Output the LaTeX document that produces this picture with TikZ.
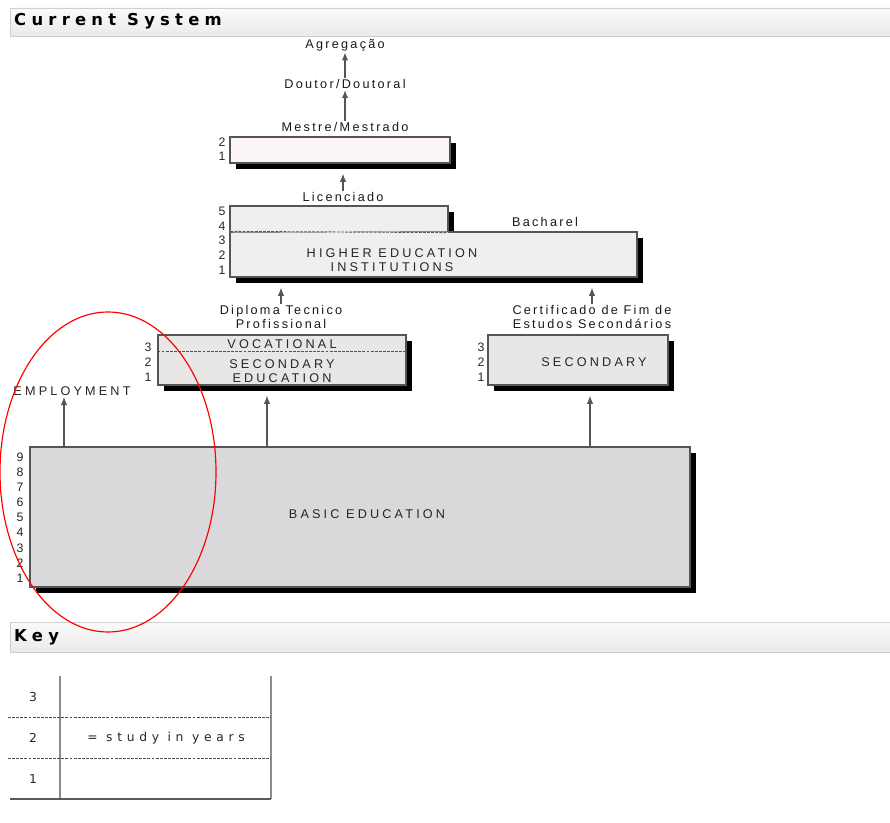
\documentclass[tikz,border=0pt]{standalone}
\usepackage{fontspec}
\setmainfont{Liberation Sans}
\newfontfamily\lblfont[LetterSpace=18]{Liberation Sans}
\newfontfamily\capsfont[LetterSpace=25]{Liberation Sans}
\newfontfamily\headfont[LetterSpace=32]{DejaVu Sans}
\newfontfamily\keyfont[LetterSpace=38]{DejaVu Sans}
\usetikzlibrary{shapes,arrows,positioning,backgrounds,fit,shadows,arrows.meta}

\definecolor{edgegray}{HTML}{555555}
\definecolor{basicfill}{HTML}{D9D9DB}
\definecolor{secfill}{HTML}{E9E7E6}
\definecolor{heifill}{HTML}{F0EEEE}
\definecolor{mastfill}{HTML}{FCF6F6}
\definecolor{barline}{HTML}{CFCFCF}

\tikzset{
    box/.style={draw=edgegray, line width=1pt, inner sep=0pt,
        drop shadow={shadow xshift=0.18cm, shadow yshift=-0.18cm, fill=black, opacity=1}},
    lbl/.style={font=\lblfont\fontsize{10.8}{12.5}\selectfont, text=black!90, align=center, inner sep=1pt},
    capslbl/.style={font=\capsfont\fontsize{10.8}{12.5}\selectfont, text=black!85, align=center, inner sep=1pt},
    yr/.style={font=\fontsize{10.5}{11}\selectfont, text=black!85, inner sep=0pt},
    arr/.style={-{Latex[length=7pt,width=5.5pt]}, draw=edgegray, line width=1.1pt},
    tobox/.style={arr, shorten >=0.3cm},
    bar/.style={draw=barline, top color=black!2, bottom color=black!8, line width=0.8pt, inner sep=0pt},
    bartitle/.style={font=\headfont\bfseries\fontsize{14}{16}\selectfont, anchor=west, inner sep=0pt},
    keytxt/.style={font=\keyfont\fontsize{10.5}{12}\selectfont, text=black!85, inner sep=0pt},
    keyrule/.style={draw=black!45, line width=1pt},
    keydash/.style={draw=black!70, line width=0.8pt, dash pattern=on 2.5pt off 1pt},
}

\begin{document}
\begin{tikzpicture}[x=0.03cm, y=-0.03cm]
    \useasboundingbox (0,0) rectangle (890,823);

    % Header bar
    \node[bar, fit={(10,8) (892,36)}] (sysbar) {};
    \node[bartitle] (systitle) at (14,21) {Current System};

    % Degrees above the masters
    \node[lbl] (agreg) at (345,45) {Agregação};
    \node[lbl] (dout) at (345,84) {Doutor/Doutoral};
    \node[lbl] (mestr) at (345,127) {Mestre/Mestrado};
    \draw[arr] (dout) -- (agreg);
    \draw[arr] (mestr) -- (dout);

    % Masters
    \node[box, fill=mastfill, fit={(230,137) (450,163)}] (mast) {};
    \foreach \n/\y in {2/142,1/156} {
        \node[yr] (mast-\n) at (222,\y) {\n};
    }

    % Higher education institutions
    \node[lbl] (lic) at (343,197) {Licenciado};
    \draw[tobox] (lic) -- (lic |- mast.south);
    \node[box, fill=heifill, fit={(230,206) (448,232)}] (licbox) {};
    \node[box, fill=heifill, fit={(230,232) (637,277)}] (hei) {};
    \draw[heifill, line width=1.4pt] ([xshift=0.7pt]hei.north west) -- (licbox.south east);
    \draw[keydash, draw=edgegray] ([xshift=0.7pt]hei.north west) -- (licbox.south east);
    \node[capslbl] (heitext) at (392,260) {HIGHER EDUCATION\\INSTITUTIONS};
    \node[lbl] (bach) at (545,222) {Bacharel};
    \foreach \n/\y in {5/211,4/226,3/240,2/255,1/270} {
        \node[yr] (hei-\n) at (222,\y) {\n};
    }

    % Secondary level
    \node[lbl] (dipl) at (281,317) {Diploma Tecnico\\Profissional};
    \node[lbl] (cert) at (592,317) {Certificado de Fim de\\Estudos Secondários};
    \draw[tobox] (dipl) -- (dipl |- hei.south);
    \draw[tobox] (cert) -- (cert |- hei.south);

    \node[box, fill=secfill, fit={(158,335) (406,385)}] (voc) {};
    \draw[keydash, draw=edgegray] ([yshift=-0.51cm]voc.north west) -- ([yshift=-0.51cm]voc.north east);
    \node[capslbl] (voctext) at (282,344) {VOCATIONAL};
    \node[capslbl] (sectext) at (282,371) {SECONDARY\\EDUCATION};
    \foreach \n/\y in {3/347,2/362,1/377} {
        \node[yr] (voc-\n) at (148,\y) {\n};
    }

    \node[box, fill=secfill, fit={(488,335) (668,385)}] (sec) {};
    \node[capslbl] (sectitle) at (594,362) {SECONDARY};
    \foreach \n/\y in {3/347,2/362,1/377} {
        \node[yr] (sec-\n) at (481,\y) {\n};
    }

    % Basic education
    \node[box, fill=basicfill, fit={(30,447) (690,587)}] (basic) {};
    \node[capslbl] (basictext) at (367,514) {BASIC EDUCATION};
    \foreach \n in {1,...,9} {
        \node[yr] (basic-\n) at (20,{578-15.1*(\n-1)}) {\n};
    }
    \node[capslbl] (employ) at (72,391) {EMPLOYMENT};
    \draw[arr] ([xshift=-0.24cm]basic.north -| employ.south) -- ([xshift=-0.24cm]employ.south);
    \draw[tobox] ([xshift=-0.45cm]basic.north -| voc.south) -- ([xshift=-0.45cm]voc.south);
    \draw[tobox] ([xshift=-0.06cm]basic.north -| cert) -- ([xshift=-0.06cm]sec.south -| cert);

    % Key
    \node[bar, fit={(10,622) (892,652)}] (keybar) {};
    \node[bartitle] (keytitle) at (14,637) {Key};
    \draw[keyrule] (60,676) -- (60,799);
    \draw[keyrule] (271,676) -- (271,799);
    \draw[keyrule, draw=black!65] (10,799) -- (271,799);
    \draw[keydash] (8,717) -- (271,717);
    \draw[keydash] (8,758) -- (271,758);
    \node[keytxt] (key-3) at (33,697) {3};
    \node[keytxt] (key-2) at (33,738) {2};
    \node[keytxt] (key-1) at (33,779) {1};
    \node[keytxt] (keylabel) at (166,738) {= study in years};

    % Highlight
    \draw[red, line width=1pt] (108,472) ellipse [x radius=3.24cm, y radius=4.8cm];
\end{tikzpicture}
\end{document}
